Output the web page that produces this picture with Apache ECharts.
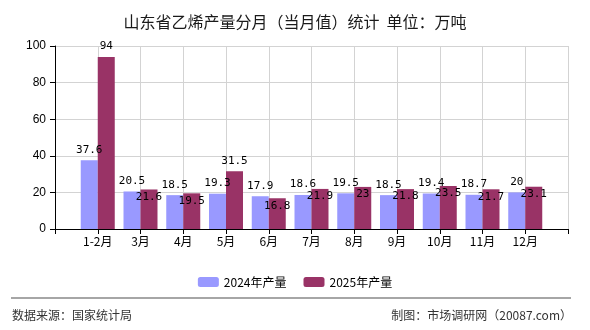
<!DOCTYPE html>
<html>
<head>
<meta charset="utf-8">
<script src="https://cdn.jsdelivr.net/npm/echarts@6/dist/echarts.min.js"></script>
<style>
  html, body { margin: 0; padding: 0; background: #fff; }
  #chart { width: 590px; height: 330px; }
</style>
</head>
<body>
<div id="chart"></div>
<script>
// 月份（两端留空位）
const months = ['', '1-2月', '3月', '4月', '5月', '6月', '7月', '8月', '9月', '10月', '11月', '12月', ''];
const prod2024 = [37.6, 20.5, 18.5, 19.3, 17.9, 18.6, 19.5, 18.5, 19.4, 18.7, 20];
const prod2025 = [94, 21.6, 19.5, 31.5, 16.8, 21.9, 23, 21.8, 23.5, 21.7, 23.1];
const yTicks = [0, 20, 40, 60, 80, 100];

const cjk = '"Noto Sans CJK SC", "Noto Sans", sans-serif';
const mono = '"DejaVu Sans Mono", "Liberation Mono", monospace';

const chart = echarts.init(document.getElementById('chart'));

const pad = arr => ['-'].concat(arr, ['-']);

// 2025 标签：与2024标签太近时放到柱顶内侧
const data2025 = prod2025.map((v, i) => {
  const close = Math.abs(v - prod2024[i]) < 8;
  return close
    ? { value: v, label: { position: 'insideTop', distance: 2 } }
    : v;
});

const labelStyle = {
  show: true,
  position: 'top',
  distance: 5,
  color: '#000',
  fontFamily: mono,
  fontSize: 11
};

const option = {
  animation: false,
  title: {
    text: '山东省乙烯产量分月（当月值）统计  单位：万吨',
    left: 'center',
    top: 9,
    textStyle: { fontFamily: cjk, fontSize: 16, fontWeight: 'normal', color: '#1a1a1a' }
  },
  grid: { left: 55, right: 22, top: 46, bottom: 101 },
  legend: {
    top: 271,
    left: 'center',
    itemWidth: 21,
    itemHeight: 10,
    itemGap: 17,
    textStyle: { fontFamily: cjk, fontSize: 12, color: '#000' },
    data: ['2024年产量', '2025年产量']
  },
  xAxis: {
    type: 'category',
    data: months,
    boundaryGap: false,
    axisLine: { lineStyle: { color: '#000', width: 1 } },
    axisTick: { show: true, interval: 0, length: 5, lineStyle: { color: '#000' } },
    axisLabel: { interval: 0, color: '#000', fontFamily: cjk, fontSize: 12, margin: 6 },
    splitLine: { show: true, interval: 0, lineStyle: { color: '#d3d3d3' } }
  },
  yAxis: {
    type: 'value',
    min: yTicks[0],
    max: yTicks[yTicks.length - 1],
    interval: 20,
    axisLine: { show: true, lineStyle: { color: '#000' } },
    axisTick: { show: true, length: 5, lineStyle: { color: '#000' } },
    axisLabel: { color: '#000', fontFamily: '"Liberation Sans", Arial, sans-serif', fontSize: 12, margin: 9 },
    splitLine: { lineStyle: { color: '#d3d3d3' } }
  },
  series: [
    {
      name: '2024年产量',
      type: 'bar',
      barWidth: 17,
      barGap: '0%',
      itemStyle: { color: '#9999ff' },
      label: labelStyle,
      data: pad(prod2024)
    },
    {
      name: '2025年产量',
      type: 'bar',
      barWidth: 17,
      barGap: '0%',
      itemStyle: { color: '#993366' },
      label: labelStyle,
      data: pad(data2025)
    }
  ],
  graphic: [
    {
      type: 'line',
      shape: { x1: 11, y1: 298, x2: 571, y2: 298 },
      style: { stroke: '#888', lineWidth: 1.5 }
    },
    {
      type: 'text',
      left: 12,
      top: 309,
      style: { text: '数据来源：国家统计局', fill: '#333', font: '12px ' + cjk }
    },
    {
      type: 'text',
      right: 18,
      top: 309,
      style: { text: '制图：市场调研网（20087.com）', fill: '#333', font: '12px ' + cjk }
    }
  ]
};

chart.setOption(option);
</script>
</body>
</html>
